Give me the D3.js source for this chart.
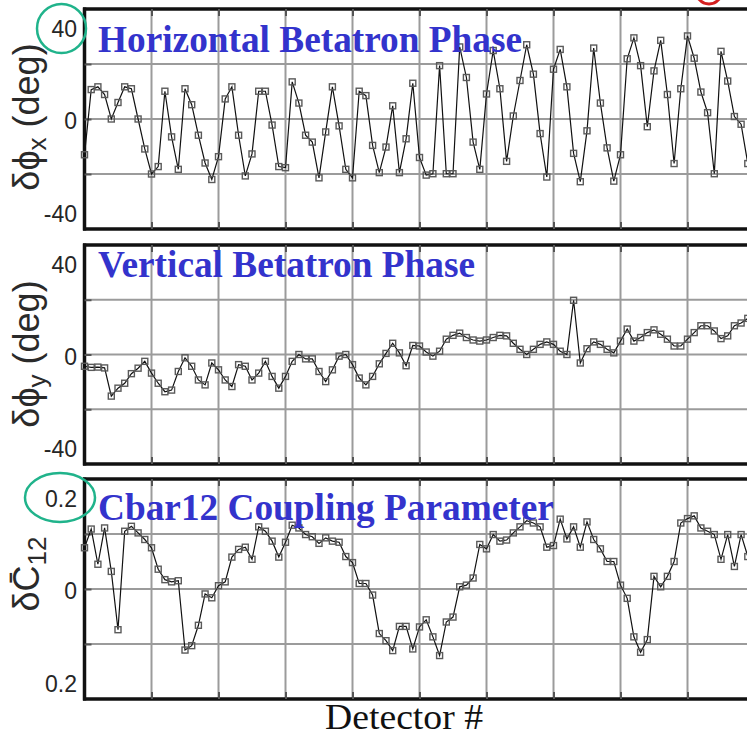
<!DOCTYPE html>
<html><head><meta charset="utf-8">
<script src="https://cdn.jsdelivr.net/npm/d3@7"></script>
<style>
html,body{margin:0;padding:0;background:#fff;}
svg{display:block;background:#fff;}
</style></head><body>
<svg id="chart" width="747" height="736"></svg>
<script>
// ---------------- data ----------------
const detectors = d3.range(0, 101);
const phaseX = [
 -13, 10.7, 11.7, 8.9, 0, 6, 11.7, 11, 0, -10.9,
 -20, -17.3, 10.1, -6.5, -18.3, 11, 5.2, -5.9, -16, -22,
 -13.7, 7.3, 11.7, -5.9, -20.7, -12.7, 10.1, 10.1, -2.2, -17.3,
 -17.7, 13.5, 5.8, -5.9, -8.4, -21.4, -4.7, 11.7, -2.5, -18.3,
 -21.4, 10.1, 8.5, -9.6, -19.5, -10.2, 4.8, -19.5, -7.2, 13,
 -14, -20.4, -19.9, 19.4, -19.9, -19.9, 26.2, 15.1, -8.4, -18.3,
 9.1, 24.9, 11, -15.4, 1.1, 14, 27, 16.3, -5.3, -21.1,
 18.1, 25.3, 11.7, -12.5, -22.8, -4.3, 25.8, 5.8, -10.5, -22.6,
 -13, 21.9, 29.5, 19.4, -2.8, 17.5, 28.6, 8.9, -16.2, 11,
 30.2, 22.1, 9.8, 2.3, -19.9, 24.6, 13.8, 0.9, -1.9, -16.2,
 -22
];
const phaseY = [
 -4.3, -4.7, -4.6, -4.9, -15.2, -12.3, -10.5, -7, -5, -2.5,
 -6.8, -10.5, -13.6, -13, -6.2, -1.2, -4.3, -9.3, -11.1, -3.1,
 -5.6, -9.3, -11.7, -3.7, -4.3, -9.3, -6.8, -2.5, -8, -12.3,
 -8, -2.5, 0, -1.6, -1.6, -6.2, -9.9, -5.6, -0.6, 0,
 -3.7, -8.6, -11.1, -8, -3.4, 0.4, 4.1, 0.6, -4.1, 3.3,
 3.1, 0.9, -0.6, 1.2, 5.6, 7, 7.8, 6.2, 5.3, 4.9,
 5.3, 6.2, 7, 6.8, 4.1, 1.9, 0, 1.9, 3.7, 4.6,
 3.7, 1.2, 0, 19.8, -3.1, 2.1, 4.6, 3.7, 1.9, 0.6,
 4.9, 9.3, 4.9, 6.2, 8, 9, 7.4, 5.6, 3.1, 3.1,
 5.6, 8, 10.5, 10.5, 8.6, 5.8, 6.8, 10.5, 11.5, 13.2,
 14.5
];
const cbar12 = [
 0.075, 0.109, 0.045, 0.111, 0.032, -0.074, 0.105, 0.114, 0.102, 0.09,
 0.075, 0.036, 0.017, 0.013, 0.015, -0.111, -0.103, -0.066, -0.009, -0.016,
 0.006, 0.013, 0.058, 0.072, 0.076, 0.054, 0.113, 0.105, 0.087, 0.058,
 0.085, 0.116, 0.111, 0.099, 0.095, 0.083, 0.093, 0.087, 0.085, 0.059,
 0.048, 0.01, 0.01, -0.011, -0.081, -0.094, -0.112, -0.068, -0.068, -0.109,
 -0.069, -0.056, -0.087, -0.121, -0.06, -0.051, 0.004, 0.007, 0.02, 0.081,
 0.073, 0.099, 0.087, 0.089, 0.102, 0.113, 0.124, 0.12, 0.113, 0.076,
 0.079, 0.127, 0.091, 0.113, 0.076, 0.122, 0.09, 0.073, 0.05, 0.05,
 0.007, -0.017, -0.087, -0.115, -0.092, 0.023, 0.004, 0.023, 0.05, 0.12,
 0.128, 0.133, 0.111, 0.105, 0.099, 0.054, 0.099, 0.041, 0.099, 0.059,
 0.08
];
const panelTitles = ["Horizontal Betatron Phase", "Vertical Betatron Phase", "Cbar12 Coupling Parameter"];
const degTicks = [40, 0, -40];
const degTickLabels = ["40", "0", "-40"];
const cTicks = [0.2, 0, -0.2];
const cTickLabels = ["0.2", "0", "0.2"];
const degGrid = [20, 0, -20];
const cGrid = [0.1, 0, -0.1];
const xGrid = [10, 20, 30, 40, 50, 60, 70, 80, 90, 100];
const xTitle = "Detector #";

// ---------------- layout ----------------
const svg = d3.select("#chart");
const x = d3.scaleLinear().domain([0, 100]).range([84.5, 754.5]);

const panels = [
  {values: phaseX, domain: [-40, 40], top: 9, bottom: 229, ticks: degTicks, labels: degTickLabels, grid: degGrid, title: panelTitles[0], titleY: 52, ylab: "x", ylabY: 117},
  {values: phaseY, domain: [-40, 40], top: 245, bottom: 464, ticks: degTicks, labels: degTickLabels, grid: degGrid, title: panelTitles[1], titleY: 277, ylab: "y", ylabY: 354},
  {values: cbar12, domain: [-0.2, 0.2], top: 479, bottom: 699, ticks: cTicks, labels: cTickLabels, grid: cGrid, title: panelTitles[2], titleY: 520, ylab: "C", ylabY: 574}
];
const labelOffsets = [20, 2, -15];

panels.forEach((p, pi) => {
  const y = d3.scaleLinear().domain(p.domain).range([p.bottom, p.top]);
  const g = svg.append("g");

  // gridlines
  g.append("g").selectAll("line").data(xGrid).join("line")
    .attr("x1", d => x(d)).attr("x2", d => x(d))
    .attr("y1", p.top).attr("y2", p.bottom)
    .attr("stroke", "#9b9b9b").attr("stroke-width", 2);
  g.append("g").selectAll("line").data(p.grid).join("line")
    .attr("x1", x(0)).attr("x2", 760)
    .attr("y1", d => y(d)).attr("y2", d => y(d))
    .attr("stroke", "#9b9b9b").attr("stroke-width", 2);

  // axes (borders + inward ticks)
  const axB = g.append("g").attr("transform", `translate(0,${p.bottom})`)
    .call(d3.axisBottom(x).tickValues(xGrid).tickSize(-7).tickSizeOuter(0).tickFormat(""));
  const axT = g.append("g").attr("transform", `translate(0,${p.top})`)
    .call(d3.axisTop(x).tickValues(xGrid).tickSize(-7).tickSizeOuter(0).tickFormat(""));
  const axL = g.append("g").attr("transform", `translate(${x(0)},0)`)
    .call(d3.axisLeft(y).tickValues(p.grid).tickSize(-7).tickSizeOuter(0).tickFormat(""));
  [axB, axT, axL].forEach(a => {
    a.select(".domain").attr("stroke", "#111").attr("stroke-width", 3.5);
    a.selectAll(".tick line").attr("stroke", "#555").attr("stroke-width", 2);
  });
  axL.select(".domain").attr("d", `M0,${p.top - 1.5}V${p.bottom + 1.5}`);
  axB.select(".domain").attr("d", `M${x(0) - 1.5},0H760`);
  axT.select(".domain").attr("d", `M${x(0) - 1.5},0H760`);

  // tick labels
  g.append("g").selectAll("text").data(p.ticks).join("text")
    .attr("x", 77)
    .attr("y", (d, i) => y(d) + labelOffsets[i])
    .attr("text-anchor", "end")
    .attr("dominant-baseline", "central")
    .attr("font-family", "'Liberation Sans', Arial, sans-serif")
    .attr("font-size", 23)
    .attr("fill", "#262626")
    .text((d, i) => p.labels[i]);

  // data line + markers
  const pts = detectors.map((d, i) => [d, p.values[i]]);
  g.append("path").datum(pts)
    .attr("fill", "none").attr("stroke", "#111").attr("stroke-width", 1.2)
    .attr("d", d3.line().x(d => x(d[0])).y(d => y(d[1])));
  g.append("g").selectAll("rect").data(pts).join("rect")
    .attr("x", d => x(d[0]) - 3).attr("y", d => y(d[1]) - 3)
    .attr("width", 6).attr("height", 6)
    .attr("fill", "none").attr("stroke", "#5a5a5a").attr("stroke-width", 1.4);

  // panel title
  g.append("text")
    .attr("x", 98).attr("y", p.titleY)
    .attr("font-family", "'Liberation Serif', 'Times New Roman', serif")
    .attr("font-weight", "bold").attr("font-size", 37.3)
    .attr("fill", "#3333cc")
    .text(p.title);

  // y label
  const yl = g.append("text")
    .attr("transform", `translate(39,${p.ylabY}) rotate(-90)`)
    .attr("text-anchor", "middle")
    .attr("font-family", "'Liberation Sans', Arial, sans-serif")
    .attr("font-size", 36)
    .attr("fill", "#2a2a2a");
  if (p.ylab === "C") {
    yl.append("tspan").text("δC\u0304");
    yl.append("tspan").attr("font-size", 26).attr("dy", 7).text("12");
  } else {
    yl.append("tspan").text("δϕ");
    yl.append("tspan").attr("font-size", 26).attr("dy", 7).text(p.ylab);
    yl.append("tspan").attr("dy", -7).text(" (deg)");
  }
});

// x axis title
svg.append("text")
  .attr("x", 404).attr("y", 729)
  .attr("text-anchor", "middle")
  .attr("font-family", "'Liberation Serif', 'Times New Roman', serif")
  .attr("font-size", 35)
  .attr("textLength", 158).attr("lengthAdjust", "spacingAndGlyphs")
  .attr("fill", "#111")
  .text(xTitle);

// annotation circles
svg.append("ellipse").attr("cx", 61.5).attr("cy", 28.5).attr("rx", 24.5).attr("ry", 24.5)
  .attr("fill", "none").attr("stroke", "#20b38b").attr("stroke-width", 2.5);
svg.append("ellipse").attr("cx", 60).attr("cy", 497.5).attr("rx", 35).attr("ry", 24.5)
  .attr("fill", "none").attr("stroke", "#20b38b").attr("stroke-width", 2.5);
svg.append("ellipse").attr("cx", 709).attr("cy", -12).attr("rx", 14).attr("ry", 16)
  .attr("fill", "none").attr("stroke", "#d41f1f").attr("stroke-width", 3);
</script>
</body></html>
